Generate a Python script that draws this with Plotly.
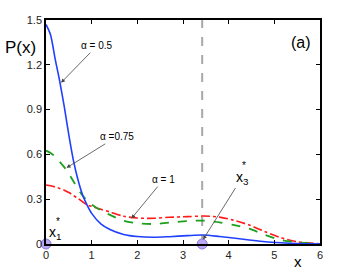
import plotly.graph_objects as go

# ---- data ----
x_vals = [0, 0.1, 0.2, 0.3, 0.4, 0.5, 0.6, 0.7, 0.8, 0.9, 1.0, 1.2, 1.4, 1.7,
          2.0, 2.35, 2.7, 3.1, 3.45, 3.8, 4.1, 4.45, 4.8, 5.15, 5.5, 5.85, 6.0]
p_alpha_05 = [1.47, 1.40, 1.24, 1.09, 0.92, 0.73, 0.56, 0.43, 0.33, 0.26, 0.205, 0.135, 0.097, 0.064,
              0.050, 0.045, 0.049, 0.056, 0.060, 0.050, 0.040, 0.027, 0.015, 0.008, 0.003, 0.001, 0.0]
p_alpha_075 = [0.625, 0.61, 0.585, 0.55, 0.515, 0.47, 0.42, 0.37, 0.325, 0.29, 0.265, 0.225, 0.195, 0.155,
               0.139, 0.134, 0.143, 0.154, 0.156, 0.145, 0.128, 0.103, 0.060, 0.027, 0.011, 0.003, 0.0]
p_alpha_1 = [0.395, 0.39, 0.382, 0.372, 0.36, 0.345, 0.325, 0.305, 0.283, 0.262, 0.252, 0.232, 0.215, 0.186,
             0.174, 0.172, 0.179, 0.183, 0.187, 0.180, 0.160, 0.127, 0.082, 0.042, 0.015, 0.005, 0.002]
fixed_points_x = [0.0, 3.42]
fixed_points_y = [0.0, 0.0]
x_ticks = [0, 1, 2, 3, 4, 5, 6]
y_ticks = [0, 0.3, 0.6, 0.9, 1.2, 1.5]
y_tick_text = ["0", "0.3", "0.6", "0.9", "1.2", "1.5"]

FONT = "Liberation Sans, Arial, sans-serif"

fig = go.Figure()

# vertical dashed line at x3*
fig.add_trace(go.Scatter(x=[fixed_points_x[1], fixed_points_x[1]], y=[0, 1.5], mode="lines",
                         line=dict(color="#a8a8a8", width=2, dash="dash"), showlegend=False,
                         hoverinfo="skip"))

fig.add_trace(go.Scatter(x=x_vals, y=p_alpha_1, mode="lines", line_shape="spline",
                         line=dict(color="#ff1a1a", width=1.6, dash="dashdot", smoothing=0.8),
                         showlegend=False))
fig.add_trace(go.Scatter(x=x_vals, y=p_alpha_075, mode="lines", line_shape="spline",
                         line=dict(color="#1ea01e", width=1.8, dash="dash", smoothing=0.8),
                         showlegend=False))
fig.add_trace(go.Scatter(x=x_vals, y=p_alpha_05, mode="lines", line_shape="spline",
                         line=dict(color="#2040ff", width=1.6, smoothing=0.8), showlegend=False))

fig.add_trace(go.Scatter(x=fixed_points_x, y=fixed_points_y, mode="markers", cliponaxis=False,
                         marker=dict(size=10, color="#bba8f5", line=dict(color="#8a78d8", width=1)),
                         showlegend=False))

axis_common = dict(showgrid=False, zeroline=False, showline=True, linecolor="black", linewidth=1.5,
                   mirror="ticks", ticks="inside", ticklen=4, tickcolor="black", tickwidth=1,
                   tickfont=dict(family=FONT, size=11, color="#222"))

fig.update_xaxes(range=[0, 6], tickvals=x_ticks, **axis_common)
fig.update_yaxes(range=[0, 1.5], tickvals=y_ticks, ticktext=y_tick_text, **axis_common)

# plot area: left 46, top 20, width 274, height 224 (page coordinates)
def px(xp):
    return (xp - 46) / 274

def py(yp):
    return (244 - yp) / 224

arrow = dict(showarrow=True, arrowhead=2, arrowsize=1, arrowwidth=0.8, arrowcolor="#444",
             xanchor="center", yanchor="middle",
             font=dict(family=FONT, size=10, color="black"))
label = dict(xref="paper", yref="paper", showarrow=False, xanchor="center", yanchor="middle")
annotations = [
    dict(x=0.33, y=1.08, text="α = 0.5", ax=36, ay=-37, **arrow),
    dict(x=0.45, y=0.51, text="α =0.75", ax=50, ay=-31, **arrow),
    dict(x=1.87, y=0.17, text="α = 1", ax=32, ay=-39, **arrow),
    dict(x=3.44, y=0.03, text="x<sub>3</sub>", ax=39, ay=-62, showarrow=True, arrowhead=2,
         arrowsize=1, arrowwidth=0.8, arrowcolor="#444", xanchor="center", yanchor="middle",
         font=dict(family=FONT, size=14, color="black")),
    dict(x=px(244), y=py(165), text="*", font=dict(family=FONT, size=10, color="black"), **label),
    dict(x=px(55), y=py(233), text="x<sub>1</sub>", font=dict(family=FONT, size=14, color="black"), **label),
    dict(x=px(58), y=py(221), text="*", font=dict(family=FONT, size=10, color="black"), **label),
    dict(x=px(20), y=py(47), text="P(x)", font=dict(family=FONT, size=17, color="black"), **label),
    dict(x=px(301), y=py(42), text="(a)", font=dict(family=FONT, size=16, color="black"), **label),
    dict(x=px(298), y=py(261), text="x", font=dict(family=FONT, size=15, color="black"), **label),
]

fig.update_layout(width=354, height=275, margin=dict(l=46, r=34, t=20, b=31),
                  plot_bgcolor="white", paper_bgcolor="white", annotations=annotations,
                  font=dict(family=FONT))

# remove the browser's default 8px body margin so the figure fills the window
fig.write_html("out.html", config={"displayModeBar": False},
               post_script="document.body.style.margin='0';document.body.style.overflow='hidden';")
